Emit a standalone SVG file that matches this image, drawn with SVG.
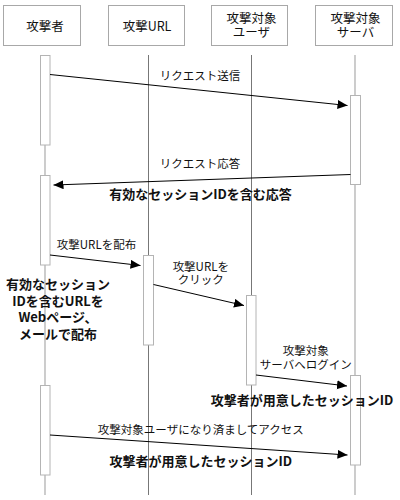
<svg xmlns="http://www.w3.org/2000/svg" width="400" height="500" viewBox="0 0 400 500">
<style>
text{font-family:"Noto Sans CJK JP","Noto Sans",sans-serif;fill:#111}
.h{font-size:12.5px;text-anchor:middle}
.m{font-size:11.5px;text-anchor:middle}
.b{font-size:13px;font-weight:bold;text-anchor:middle}
.hb{fill:#fff;stroke:#a8a8a8;stroke-width:1}
.ll{stroke:#777;stroke-width:1}
.lt{stroke:#c0c0c0;stroke-width:1.6}
.act{fill:#fff;stroke:#b4b4b4;stroke-width:1}
.msg{stroke:#000;stroke-width:1;fill:none;marker-end:url(#ah)}
</style>
<defs>
<marker id="ah" markerUnits="userSpaceOnUse" markerWidth="12" markerHeight="10" refX="10" refY="4.5" orient="auto">
<path d="M0,0 L10,4.5 L0,9 Z" fill="#000"/>
</marker>
</defs>
<rect width="400" height="500" fill="#fff"/>
<g id="lifelines">
<line class="lt" x1="45" y1="55" x2="45" y2="495"/>
<line class="ll" x1="148.5" y1="55" x2="148.5" y2="495"/>
<line class="ll" x1="251.5" y1="55" x2="251.5" y2="495"/>
<line class="lt" x1="355" y1="55" x2="355" y2="495"/>
</g>
<g id="attacker">
<rect class="hb" x="3.5" y="5.5" width="77" height="40"/>
<text class="h" x="45" y="31">攻撃者</text>
</g>
<g id="url">
<rect class="hb" x="108.5" y="5.5" width="76" height="40"/>
<text class="h" x="147" y="31">攻撃URL</text>
</g>
<g id="user">
<rect class="hb" x="211.5" y="5.5" width="76" height="40"/>
<text class="h" x="251.5" y="22.5">攻撃対象<tspan x="251.5" dy="14">ユーザ</tspan></text>
</g>
<g id="server">
<rect class="hb" x="315.5" y="5.5" width="77" height="40"/>
<text class="h" x="355.5" y="22.5">攻撃対象<tspan x="355.5" dy="14">サーバ</tspan></text>
</g>
<g id="activations">
<rect class="act" x="40.5" y="55.5" width="9.5" height="89.5"/>
<rect class="act" x="350.5" y="95.5" width="10" height="89"/>
<rect class="act" x="40.5" y="175.5" width="9.5" height="89.5"/>
<rect class="act" x="143.5" y="255.5" width="10" height="89.5"/>
<rect class="act" x="246.5" y="295.5" width="9.5" height="89.5"/>
<rect class="act" x="350.5" y="375.5" width="10" height="89.5"/>
<rect class="act" x="40.5" y="385.5" width="9.5" height="89.5"/>
</g>
<g id="connectors">
<line class="msg" x1="50" y1="74.5" x2="347.5" y2="105.5"/>
<line class="msg" x1="350.5" y1="174.5" x2="53.5" y2="185"/>
<line class="msg" x1="50" y1="255" x2="140.5" y2="265.5"/>
<line class="msg" x1="153.5" y1="284.5" x2="244" y2="305.5"/>
<line class="msg" x1="256" y1="375" x2="347" y2="386"/>
<line class="msg" x1="50" y1="435" x2="347.5" y2="455"/>
</g>
<g id="labels">
<text class="m" x="200" y="80">リクエスト送信</text>
<text class="m" x="200" y="168">リクエスト応答</text>
<text class="b" x="200.5" y="199">有効なセッションIDを含む応答</text>
<text class="m" x="96.5" y="249">攻撃URLを配布</text>
<text class="m" x="200.8" y="270.5">攻撃URLを<tspan x="200.8" dy="13.5">クリック</tspan></text>
<text class="b" x="58" y="289">有効なセッション<tspan x="58" dy="16.5">IDを含むURLを</tspan><tspan x="58" dy="16.5">Webページ、</tspan><tspan x="58" dy="16.5">メールで配布</tspan></text>
<text class="m" x="305.8" y="355">攻撃対象<tspan x="305.8" dy="14">サーバへログイン</tspan></text>
<text class="b" x="302" y="405">攻撃者が用意したセッションID</text>
<text class="m" x="200.8" y="434">攻撃対象ユーザになり済ましてアクセス</text>
<text class="b" x="200.7" y="466">攻撃者が用意したセッションID</text>
</g>
</svg>
